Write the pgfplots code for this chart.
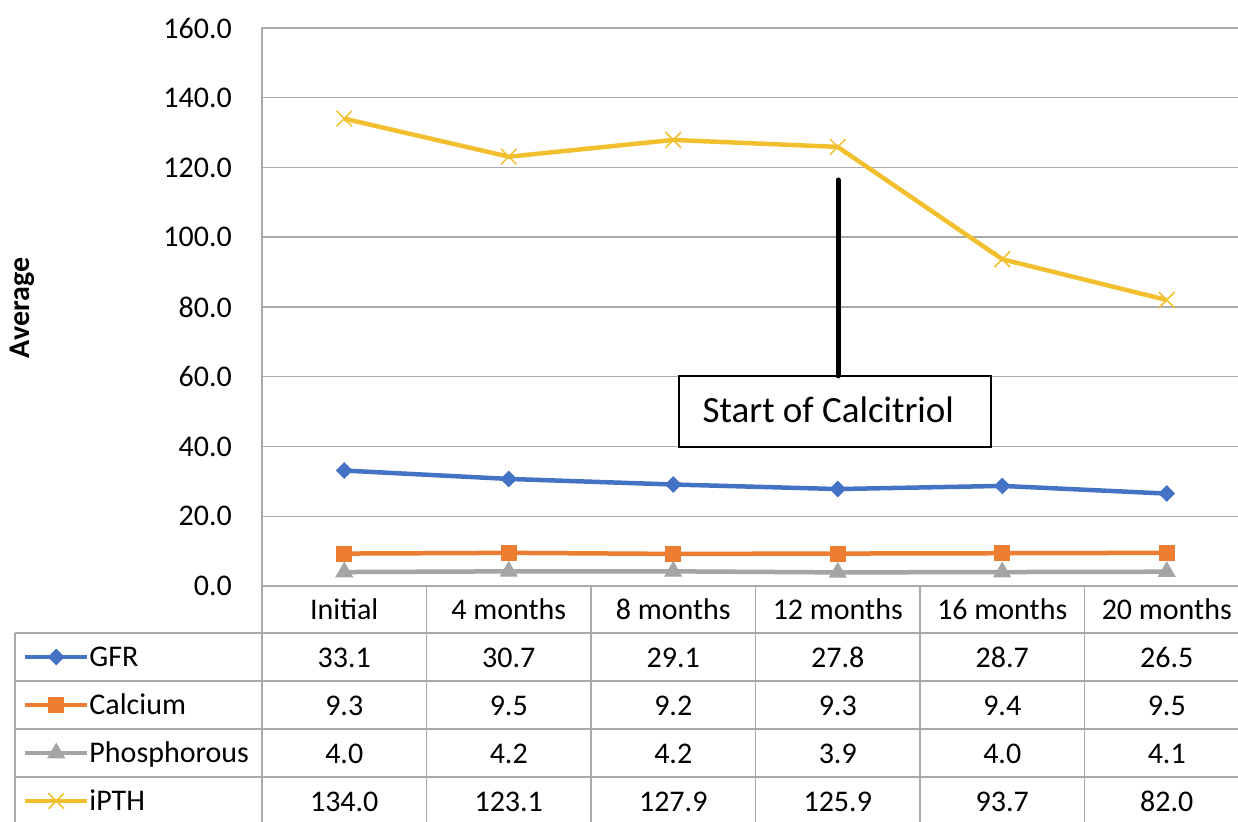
\documentclass[border=0pt]{standalone}
\usepackage{fontspec}
\setmainfont{Carlito}
\usepackage{pgfplots}
\pgfplotsset{compat=1.18}
\definecolor{cGFR}{HTML}{4472C4}
\definecolor{cCa}{HTML}{ED7D31}
\definecolor{cP}{HTML}{A5A5A5}
\definecolor{cPTH}{RGB}{242,192,46}
\definecolor{gridc}{RGB}{170,170,170}
\newcommand{\tabfont}{\fontsize{30}{36}\selectfont}
\begin{document}
\begin{tikzpicture}[x=1pt,y=1pt]
\useasboundingbox (-262,-235) rectangle (976,586);
\begin{axis}[
  at={(0,0)}, anchor=south west,
  scale only axis, width=987pt, height=558pt,
  xmin=-0.5, xmax=5.5, ymin=0, ymax=160,
  xtick={0,...,5},
  xticklabels={Initial,4 months,8 months,12 months,16 months,20 months},
  ytick={0,20,...,160},
  major tick length=0pt,
  ymajorgrids, grid style={gridc, line width=1.5pt},
  axis line style={gridc, line width=1.5pt},
  tick label style={font=\tabfont, text=black},
  yticklabel style={anchor=east, inner sep=0pt, xshift=-30pt},
  xticklabel style={anchor=base, inner sep=0pt, yshift=-33pt},
  /pgf/number format/.cd, fixed, fixed zerofill, precision=1, assume math mode=true, /pgfplots/.cd,
  clip=false,
  legend style={at={(axis description cs:-0.24215,-0.08423)}, anchor=north west,
    draw=none, fill=none, inner sep=0pt, outer sep=0pt, row sep=0pt, column sep=0pt,
    nodes={inner sep=0pt, outer sep=0pt, minimum height=48pt, text height=19pt, text depth=0pt, anchor=west, font=\tabfont}},
  legend cell align=left,
  legend image code/.code={\draw[#1, mark=none] (0pt,0pt) -- (62pt,0pt); \draw[#1] plot coordinates {(31pt,0pt)};},
]
\addplot[cGFR, line width=4.5pt, mark=square*, mark size=5.4pt, mark options={rotate=45, line width=1pt, solid}]
  coordinates {(0,33.1)(1,30.7)(2,29.1)(3,27.8)(4,28.7)(5,26.5)};
\addlegendentry{GFR}
\addplot[cCa, line width=4.5pt, mark=square*, mark size=7.5pt, mark options={line width=1pt, solid}]
  coordinates {(0,9.3)(1,9.5)(2,9.2)(3,9.3)(4,9.4)(5,9.5)};
\addlegendentry{Calcium}
\addplot[cP, line width=4.5pt, mark=triangle*, mark size=9.5pt, mark options={line width=1pt, solid}]
  coordinates {(0,4.0)(1,4.2)(2,4.2)(3,3.9)(4,4.0)(5,4.1)};
\addlegendentry{Phosphorous}
\addplot[cPTH, line width=4.5pt, mark=x, mark size=11pt, mark options={line width=1.5pt, solid}]
  coordinates {(0,134.0)(1,123.1)(2,127.9)(3,125.9)(4,93.7)(5,82.0)};
\addlegendentry{iPTH}
\end{axis}
% data table grid
\begin{scope}[gridc, line width=1.5pt]
  \foreach \y in {-47,-95,-143,-191} \draw (-247,\y) -- (990,\y);
  \draw (-247,-47) -- (-247,-240);
  \foreach \k in {0,...,5} \draw ({164.5*\k},0) -- ({164.5*\k},-240);
\end{scope}
\foreach \v [count=\i from 0] in {33.1,30.7,29.1,27.8,28.7,26.5}
  \node[anchor=base, inner sep=0pt, font=\tabfont] at ({82.25+164.5*\i},-81) {\v};
\foreach \v [count=\i from 0] in {9.3,9.5,9.2,9.3,9.4,9.5}
  \node[anchor=base, inner sep=0pt, font=\tabfont] at ({82.25+164.5*\i},-129) {\v};
\foreach \v [count=\i from 0] in {4.0,4.2,4.2,3.9,4.0,4.1}
  \node[anchor=base, inner sep=0pt, font=\tabfont] at ({82.25+164.5*\i},-177) {\v};
\foreach \v [count=\i from 0] in {134.0,123.1,127.9,125.9,93.7,82.0}
  \node[anchor=base, inner sep=0pt, font=\tabfont] at ({82.25+164.5*\i},-225) {\v};
% annotation
\draw[black, line width=1.5pt, fill=white] (417,210) rectangle (729,139);
\node[anchor=base west, inner sep=0pt, font=\fontsize{37}{44}\selectfont] at (440.5,163) {Start of Calcitriol};
\draw[black, line width=5pt, line cap=round] (576,406) -- (576,210);
% y label
\node[rotate=90, inner sep=0pt, font=\bfseries\fontsize{30}{36}\selectfont] at (-240,278) {Average};
\end{tikzpicture}
\end{document}
